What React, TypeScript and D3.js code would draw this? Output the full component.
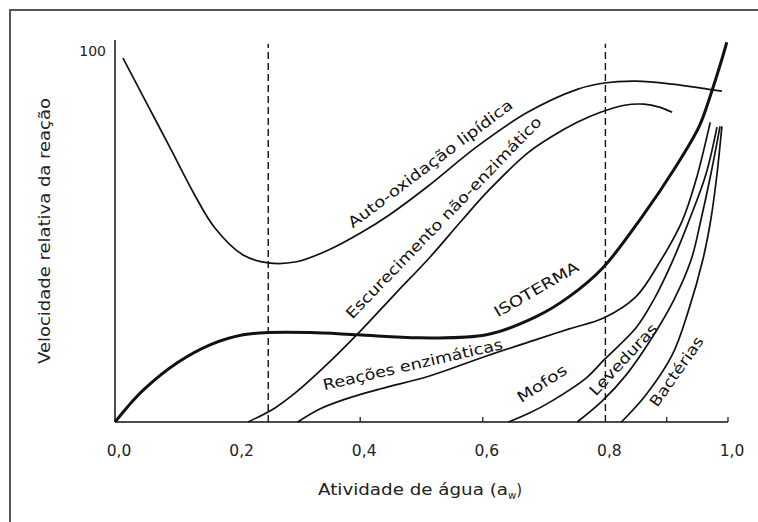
import { useEffect, useRef } from 'react';
import * as d3 from 'd3';

// water activity (a_w) vs relative reaction rate
const isoterma: [number, number][] = [
  [0, 0], [0.02, 4.0], [0.046, 8.6], [0.101, 15.9], [0.155, 20.8], [0.209, 23.5],
  [0.249, 24.1], [0.318, 24.1], [0.396, 23.5], [0.497, 22.7], [0.606, 23.5],
  [0.687, 28.4], [0.741, 33.8], [0.796, 41.6], [0.86, 55.4], [0.915, 68.9],
  [0.953, 79.7], [0.972, 88.4], [0.99, 97.8], [0.998, 102.4],
];
const autoOxidacao: [number, number][] = [
  [0.013, 98.1], [0.049, 86.8], [0.09, 73.9], [0.13, 61.2], [0.163, 52.3],
  [0.209, 45.0], [0.25, 42.9], [0.296, 43.2], [0.35, 46.5], [0.399, 50.8],
  [0.448, 55.9], [0.51, 63.5], [0.591, 74.3], [0.673, 83.5], [0.754, 89.7],
  [0.798, 91.4], [0.85, 91.9], [0.909, 91.1], [0.969, 89.7], [0.99, 89.2],
];
const escurecimento: [number, number][] = [
  [0.217, 0], [0.261, 3.8], [0.296, 8.1], [0.35, 16.2], [0.399, 24.3],
  [0.459, 34.9], [0.513, 44.3], [0.567, 54.6], [0.611, 62.7], [0.673, 72.5],
  [0.714, 77.1], [0.754, 80.8], [0.792, 83.5], [0.831, 85.4], [0.863, 85.7],
  [0.888, 84.9], [0.909, 83.5],
];
const reacoesEnzimaticas: [number, number][] = [
  [0.298, 0], [0.334, 3.5], [0.371, 5.9], [0.432, 8.9], [0.513, 12.4],
  [0.606, 17.8], [0.687, 22.2], [0.741, 25.1], [0.798, 28.1], [0.85, 33.8],
  [0.889, 43.2], [0.925, 54.1], [0.948, 65.4], [0.971, 80.8],
];
const mofos: [number, number][] = [
  [0.642, 0], [0.676, 2.4], [0.713, 5.7], [0.769, 11.9], [0.798, 16.8],
  [0.85, 25.4], [0.879, 33.0], [0.909, 43.2], [0.936, 54.1], [0.964, 66.8],
  [0.982, 79.5],
];
const leveduras: [number, number][] = [
  [0.754, 0], [0.795, 5.7], [0.834, 12.7], [0.876, 22.7], [0.912, 33.0],
  [0.94, 43.8], [0.956, 54.6], [0.972, 66.8], [0.987, 79.7],
];
const bacterias: [number, number][] = [
  [0.826, 0], [0.866, 7.3], [0.909, 18.1], [0.936, 30.3], [0.959, 43.8],
  [0.972, 54.6], [0.982, 66.8], [0.99, 79.7],
];

const xTickLabels = [0, 0.2, 0.4, 0.6, 0.8, 1.0];
const xMinorTicks = [0.4, 0.6, 0.9, 1.0];
const dashedLines = [0.25, 0.8];

// label text, anchor (data coords), angle, length
const annotations = [
  { text: 'Auto-oxidação lipídica', x: 0.515, y: 69.5, angle: -37, len: 202 },
  { text: 'Escurecimento não-enzimático', x: 0.537, y: 55.0, angle: -46, len: 274 },
  { text: 'ISOTERMA', x: 0.688, y: 35.6, angle: -30, len: 95 },
  { text: 'Reações enzimáticas', x: 0.486, y: 15.3, angle: -13, len: 184 },
  { text: 'Mofos', x: 0.697, y: 10.2, angle: -33, len: 56 },
  { text: 'Leveduras', x: 0.83, y: 16.7, angle: -47, len: 92 },
  { text: 'Bactérias', x: 0.917, y: 13.5, angle: -55, len: 82 },
];

const W = 758;
const H = 522;
const FONT = '"DejaVu Sans", Verdana, sans-serif';

const App = () => {
  const svgRef = useRef<SVGSVGElement>(null);

  useEffect(() => {
    if (!svgRef.current) return;
    const svg = d3.select(svgRef.current);
    svg.selectAll('*').remove();

    const x = d3.scaleLinear().domain([0, 1]).range([115, 728]);
    const y = d3.scaleLinear().domain([0, 103]).range([422, 40]);
    const fmt = d3.formatLocale({ decimal: ',', thousands: '.', grouping: [3], currency: ['', ''] }).format('.1f');

    // outer frame (runs off the right/bottom of the picture)
    svg.append('rect')
      .attr('x', 10).attr('y', 10)
      .attr('width', 900).attr('height', 700)
      .attr('fill', 'none')
      .attr('stroke', '#555')
      .attr('stroke-width', 2);

    // axes
    svg.append('line')
      .attr('x1', x(0)).attr('x2', x(0))
      .attr('y1', y(0)).attr('y2', y(103))
      .attr('stroke', '#111').attr('stroke-width', 1.5);
    svg.append('line')
      .attr('x1', x(0)).attr('x2', x(1))
      .attr('y1', y(0)).attr('y2', y(0))
      .attr('stroke', '#111').attr('stroke-width', 1.5);

    svg.selectAll('.minor-tick')
      .data(xMinorTicks)
      .join('line')
      .attr('class', 'minor-tick')
      .attr('x1', d => x(d)).attr('x2', d => x(d))
      .attr('y1', y(0)).attr('y2', y(0) - 5)
      .attr('stroke', '#111').attr('stroke-width', 1.2);

    svg.selectAll('.x-label')
      .data(xTickLabels)
      .join('text')
      .attr('class', 'x-label')
      .attr('x', d => x(d) + 4)
      .attr('y', 456)
      .attr('text-anchor', 'middle')
      .style('font-family', FONT)
      .style('font-size', '15.5px')
      .style('fill', '#222')
      .text(d => fmt(d));

    svg.append('text')
      .attr('x', x(0) - 9)
      .attr('y', y(100) + 5)
      .attr('text-anchor', 'end')
      .style('font-family', FONT)
      .style('font-size', '14px')
      .style('fill', '#222')
      .text('100');

    // axis titles
    svg.append('text')
      .attr('transform', 'translate(45,231) rotate(-90)')
      .attr('text-anchor', 'middle')
      .attr('dominant-baseline', 'middle')
      .attr('textLength', 266)
      .attr('lengthAdjust', 'spacingAndGlyphs')
      .style('font-family', FONT)
      .style('font-size', '15px')
      .style('fill', '#222')
      .text('Velocidade relativa da reação');

    const xt = svg.append('text')
      .attr('x', 318)
      .attr('y', 495)
      .style('font-family', FONT)
      .style('font-size', '15px')
      .style('fill', '#222');
    xt.append('tspan')
      .attr('textLength', 190)
      .attr('lengthAdjust', 'spacingAndGlyphs')
      .text('Atividade de água (a');
    xt.append('tspan').attr('dy', 4).style('font-size', '10px').text('w');
    xt.append('tspan').attr('dy', -4).text(')');

    // reference lines
    svg.selectAll('.ref-line')
      .data(dashedLines)
      .join('line')
      .attr('class', 'ref-line')
      .attr('x1', d => x(d)).attr('x2', d => x(d))
      .attr('y1', y(0)).attr('y2', y(102))
      .attr('stroke', '#111')
      .attr('stroke-width', 1.4)
      .attr('stroke-dasharray', '7,4');

    const line = d3.line<[number, number]>()
      .x(d => x(d[0]))
      .y(d => y(d[1]))
      .curve(d3.curveCatmullRom.alpha(0.5));

    const thin = [autoOxidacao, escurecimento, reacoesEnzimaticas, mofos, leveduras, bacterias];
    svg.selectAll('.curve')
      .data(thin)
      .join('path')
      .attr('class', 'curve')
      .attr('d', d => line(d))
      .attr('fill', 'none')
      .attr('stroke', '#111')
      .attr('stroke-width', 1.7);

    svg.append('path')
      .attr('d', line(isoterma))
      .attr('fill', 'none')
      .attr('stroke', '#111')
      .attr('stroke-width', 3);

    svg.selectAll('.annot')
      .data(annotations)
      .join('text')
      .attr('class', 'annot')
      .attr('transform', d => `translate(${x(d.x)},${y(d.y)}) rotate(${d.angle})`)
      .attr('text-anchor', 'middle')
      .attr('dominant-baseline', 'middle')
      .attr('textLength', d => d.len)
      .attr('lengthAdjust', 'spacingAndGlyphs')
      .style('font-family', FONT)
      .style('font-size', '15px')
      .style('fill', '#111')
      .text(d => d.text);
  }, []);

  return (
    <svg
      ref={svgRef}
      width={W}
      height={H}
      style={{ position: 'absolute', left: 0, top: 0, background: '#fff' }}
    />
  );
};

export default App;
